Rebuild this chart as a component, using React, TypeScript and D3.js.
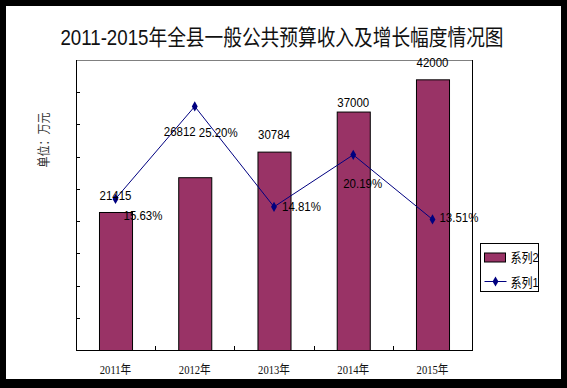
import React from 'react';
import * as d3 from 'd3';

// chart data
const years = ['2011年', '2012年', '2013年', '2014年', '2015年'];
const revenue = [21415, 26812, 30784, 37000, 42000]; // 系列2, 万元
const growth = [15.63, 25.2, 14.81, 20.19, 13.51]; // 系列1, %
const revenueMax = 45000;
const growthMax = 30;

// hand placed label nudges (the original labels were dragged around)
const revNudge = [
  [0, -12],
  [-15, -41],
  [0, -13],
  [0, -5],
  [0, -12]
];
const growthNudge = [
  [8, 21],
  [4, 31],
  [8, 4],
  [-10, 33],
  [7, 3]
];

const W = 567;
const H = 388;
const SX = 0.85; // the source image is a bit squeezed horizontally

const sans = '"Liberation Sans", Arial, "Noto Sans CJK SC", sans-serif';
const serif = '"Liberation Serif", "Noto Sans CJK SC", serif';

interface TxtProps {
  x: number;
  y: number;
  size: number;
  anchor?: 'start' | 'middle' | 'end';
  family?: string;
  fill?: string;
  rotate?: number;
  children: React.ReactNode;
}

const Txt = ({ x, y, size, anchor = 'start', family = sans, fill = '#000', rotate = 0, children }: TxtProps) => (
  <text
    transform={`translate(${x},${y}) rotate(${rotate}) scale(${SX},1)`}
    fontSize={size}
    fontFamily={family}
    textAnchor={anchor}
    fill={fill}
  >
    {children}
  </text>
);

const App = () => {
  const padding = { top: 60, right: 95, bottom: 38, left: 76 };
  const inner = {
    left: padding.left,
    right: W - padding.right,
    top: padding.top,
    bottom: H - padding.bottom
  };

  const x = d3
    .scaleBand()
    .domain(years)
    .range([inner.left, inner.right])
    .paddingInner(0.583)
    .paddingOuter(0.29);

  const yL = d3.scaleLinear().domain([0, revenueMax]).range([inner.bottom, inner.top]);
  const yR = d3.scaleLinear().domain([0, growthMax]).range([inner.bottom, inner.top]);

  const cx = (d: string) => x(d)! + x.bandwidth() / 2;
  const step = x.step();

  const linePts: [number, number][] = years.map((d, i) => [cx(d), yR(growth[i])]);
  const line = d3.line()(linePts)!;
  const diamond = d3.symbol().type(d3.symbolDiamond).size(30)()!;

  const yTicks = yL.ticks(9).filter(t => t > 0 && t < revenueMax);
  const xTicks = years.slice(1).map(d => x(d)! - (step - x.bandwidth()) / 2);

  return (
    <svg width={W} height={H} style={{ position: 'absolute', left: 0, top: 0 }}>
      <rect x={0} y={0} width={W} height={H} fill="#000" />
      <rect x={6} y={6} width={555} height={373} fill="#fff" />

      <Txt x={282} y={45} size={22} anchor="middle" fill="#111">
        2011-2015年全县一般公共预算收入及增长幅度情况图
      </Txt>

      <Txt x={48} y={140} size={13} anchor="middle" family={serif} fill="#333" rotate={-90}>
        单位：万元
      </Txt>

      {/* plot frame */}
      <line x1={inner.left} x2={inner.right} y1={inner.top + 0.5} y2={inner.top + 0.5} stroke="#808080" />
      <line x1={inner.right + 0.5} x2={inner.right + 0.5} y1={inner.top} y2={inner.bottom} stroke="#000" />

      {/* bars */}
      <g className="bars">
        {years.map((d, i) => (
          <rect
            key={d}
            x={x(d)! + 0.5}
            y={yL(revenue[i]) + 0.5}
            width={x.bandwidth()}
            height={inner.bottom - yL(revenue[i])}
            fill="#993366"
            stroke="#000"
          />
        ))}
      </g>

      {/* axes */}
      <line x1={inner.left + 0.5} x2={inner.left + 0.5} y1={inner.top} y2={inner.bottom + 1} stroke="#000" />
      {yTicks.map(t => (
        <line key={t} x1={inner.left} x2={inner.left + 4} y1={Math.round(yL(t)) + 0.5} y2={Math.round(yL(t)) + 0.5} stroke="#000" />
      ))}
      <line x1={inner.left} x2={inner.right + 1} y1={inner.bottom + 0.5} y2={inner.bottom + 0.5} stroke="#000" />
      {xTicks.map(t => (
        <line key={t} x1={Math.round(t) + 0.5} x2={Math.round(t) + 0.5} y1={inner.bottom - 4} y2={inner.bottom} stroke="#000" />
      ))}
      {years.map(d => (
        <Txt key={d} x={cx(d)} y={374} size={12.5} anchor="middle" family={serif} fill="#111">
          {d}
        </Txt>
      ))}

      {/* growth line */}
      <path d={line} fill="none" stroke="#000080" strokeWidth={1} />
      {linePts.map(([px, py], i) => (
        <path key={i} d={diamond} transform={`translate(${px},${py})`} fill="#000080" />
      ))}

      {/* labels */}
      {years.map((d, i) => (
        <Txt key={d} x={cx(d) + revNudge[i][0]} y={yL(revenue[i]) + revNudge[i][1]} size={13.5} anchor="middle">
          {revenue[i]}
        </Txt>
      ))}
      {years.map((d, i) => (
        <Txt key={d} x={cx(d) + growthNudge[i][0]} y={yR(growth[i]) + growthNudge[i][1]} size={13.5}>
          {growth[i].toFixed(2)}%
        </Txt>
      ))}

      {/* legend */}
      <g transform="translate(480.5,243.5)">
        <rect width={58} height={48} fill="#fff" stroke="#000" />
        <rect x={4} y={9.5} width={21} height={9} fill="#993366" stroke="#000" />
        <Txt x={30} y={18} size={13}>系列2</Txt>
        <line x1={4} x2={26} y1={38} y2={38} stroke="#000080" />
        <path d={diamond} transform="translate(15,38)" fill="#000080" />
        <Txt x={30} y={43} size={13}>系列1</Txt>
      </g>
    </svg>
  );
};

export default App;
